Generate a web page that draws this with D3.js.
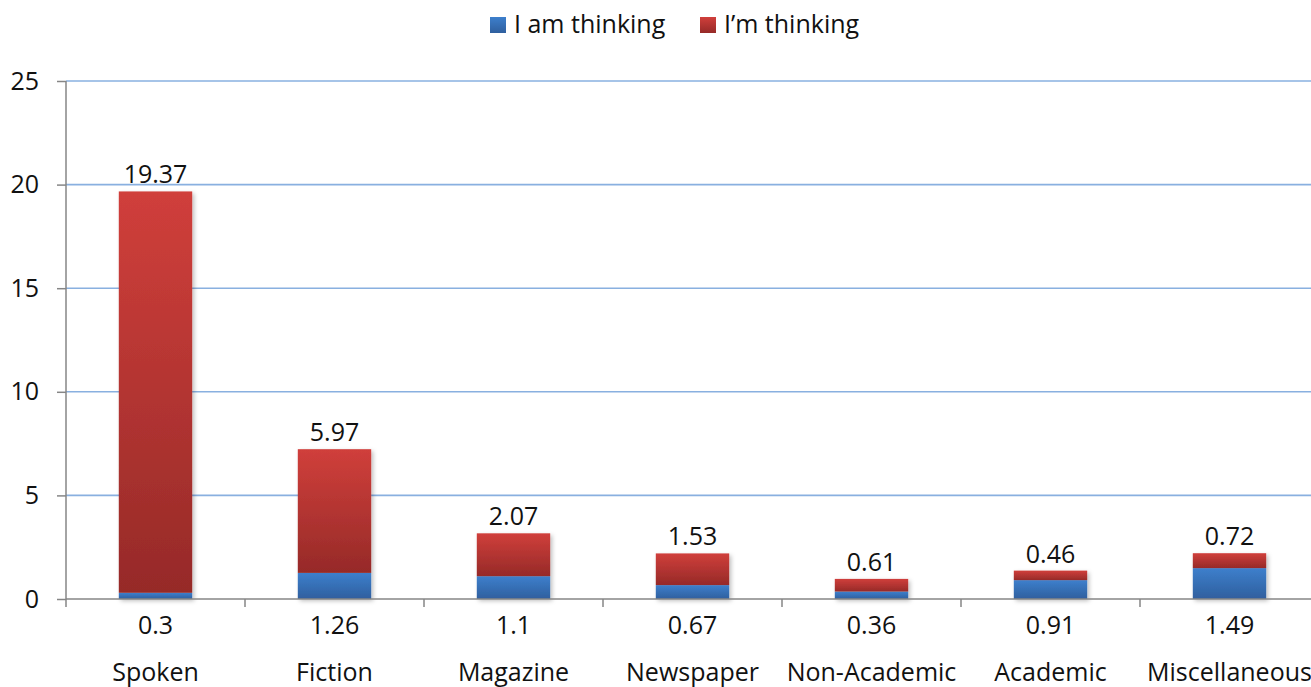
<!DOCTYPE html>
<html>
<head>
<meta charset="utf-8">
<script src="https://cdn.jsdelivr.net/npm/d3@7/dist/d3.min.js"></script>
<style>
  html, body { margin: 0; padding: 0; background: #fff; overflow: hidden; }
  svg { display: block; font-family: "Open Sans", "Noto Sans", sans-serif; }
</style>
</head>
<body>
<svg id="chart" width="1311" height="687"></svg>
<script>
const categories = ["Spoken", "Fiction", "Magazine", "Newspaper", "Non-Academic", "Academic", "Miscellaneous"];
const iAmThinking = [0.3, 1.26, 1.1, 0.67, 0.36, 0.91, 1.49];
const imThinking = [19.37, 5.97, 2.07, 1.53, 0.61, 0.46, 0.72];
const seriesNames = ["I am thinking", "I\u2019m thinking"];
const yTicks = [0, 5, 10, 15, 20, 25];

(function () {
const svg = d3.select("#chart");
const W = 1311;
const plotLeft = 66, plotBottom = 599, plotTop = 81;
const step = 179;
const FS = 25;

const x = d3.scaleBand().domain(categories).range([plotLeft, plotLeft + step * categories.length]).padding(0);
const y = d3.scaleLinear().domain([0, 25]).range([plotBottom, plotTop]);
const barW = x.bandwidth() * 0.41;

const defs = svg.append("defs");
function grad(id, c1, c2) {
  const g = defs.append("linearGradient").attr("id", id).attr("x1", 0).attr("y1", 0).attr("x2", 0).attr("y2", 1);
  g.append("stop").attr("offset", "0%").attr("stop-color", c1);
  g.append("stop").attr("offset", "100%").attr("stop-color", c2);
}
grad("gBlue", "#3d7fcc", "#2f5f9e");
grad("gRed", "#d03f3b", "#962a28");
const f = defs.append("filter").attr("id", "shadow").attr("x", "-10%").attr("y", "-10%").attr("width", "130%").attr("height", "130%");
f.append("feDropShadow").attr("dx", 2).attr("dy", 2).attr("stdDeviation", 2).attr("flood-color", "#000").attr("flood-opacity", 0.25);

// gridlines
svg.append("g").selectAll("line").data(yTicks.filter(d => d > 0)).join("line")
  .attr("x1", plotLeft).attr("x2", W).attr("y1", d => y(d)).attr("y2", d => y(d))
  .attr("stroke", "#89b0e0").attr("stroke-width", 1.6);

// y axis
const yAxis = d3.axisLeft(y).tickValues(yTicks).tickSize(9).tickPadding(18).tickFormat(d3.format("d"));
const ya = svg.append("g").attr("transform", `translate(${plotLeft},0)`).call(yAxis);
ya.select(".domain").attr("stroke", "#868686").attr("stroke-width", 1.5).attr("d", `M0,${plotTop}V${plotBottom + 8}`);
ya.selectAll(".tick line").attr("stroke", "#868686").attr("stroke-width", 1.5);
ya.selectAll(".tick text").attr("font-size", FS).attr("fill", "#111").attr("font-family", "'Open Sans', sans-serif");

// bars
const stacked = categories.map((c, i) => ({ c, b: iAmThinking[i], r: imThinking[i] }));
const gb = svg.append("g").attr("filter", "url(#shadow)");
gb.selectAll("rect.blue").data(stacked).join("rect").attr("class", "blue")
  .attr("x", d => x(d.c) + (x.bandwidth() - barW) / 2).attr("width", barW)
  .attr("y", d => y(d.b)).attr("height", d => y(0) - y(d.b)).attr("fill", "url(#gBlue)");
gb.selectAll("rect.red").data(stacked).join("rect").attr("class", "red")
  .attr("x", d => x(d.c) + (x.bandwidth() - barW) / 2).attr("width", barW)
  .attr("y", d => y(d.b + d.r)).attr("height", d => y(d.b) - y(d.b + d.r)).attr("fill", "url(#gRed)");

// x axis
const xa = svg.append("g");
xa.append("line").attr("x1", plotLeft).attr("x2", W).attr("y1", plotBottom).attr("y2", plotBottom)
  .attr("stroke", "#868686").attr("stroke-width", 1.5);
xa.selectAll("line.t").data(categories.slice(1)).join("line").attr("class", "t")
  .attr("x1", d => x(d)).attr("x2", d => x(d)).attr("y1", plotBottom).attr("y2", plotBottom + 8)
  .attr("stroke", "#868686").attr("stroke-width", 1.5);

// labels
const lab = svg.append("g").attr("font-size", FS).attr("fill", "#111").attr("text-anchor", "middle");
lab.selectAll("text.r").data(stacked).join("text").attr("class", "r")
  .attr("x", d => x(d.c) + x.bandwidth() / 2).attr("y", d => y(d.b + d.r) - 8).text(d => d.r);
lab.selectAll("text.b").data(stacked).join("text").attr("class", "b")
  .attr("x", d => x(d.c) + x.bandwidth() / 2).attr("y", 634).text(d => d.b);
lab.selectAll("text.c").data(categories).join("text").attr("class", "c")
  .attr("x", d => x(d) + x.bandwidth() / 2).attr("y", 681).text(d => d);

// legend
const leg = svg.append("g").attr("font-size", FS).attr("fill", "#111");
const legItems = [{ n: seriesNames[0], f: "url(#gBlue)", x: 490 }, { n: seriesNames[1], f: "url(#gRed)", x: 700 }];
leg.selectAll("rect").data(legItems).join("rect").attr("x", d => d.x).attr("y", 17).attr("width", 16).attr("height", 16).attr("fill", d => d.f);
leg.selectAll("text").data(legItems).join("text").attr("x", d => d.x + 24).attr("y", 33).text(d => d.n);
})();
</script>
</body>
</html>
